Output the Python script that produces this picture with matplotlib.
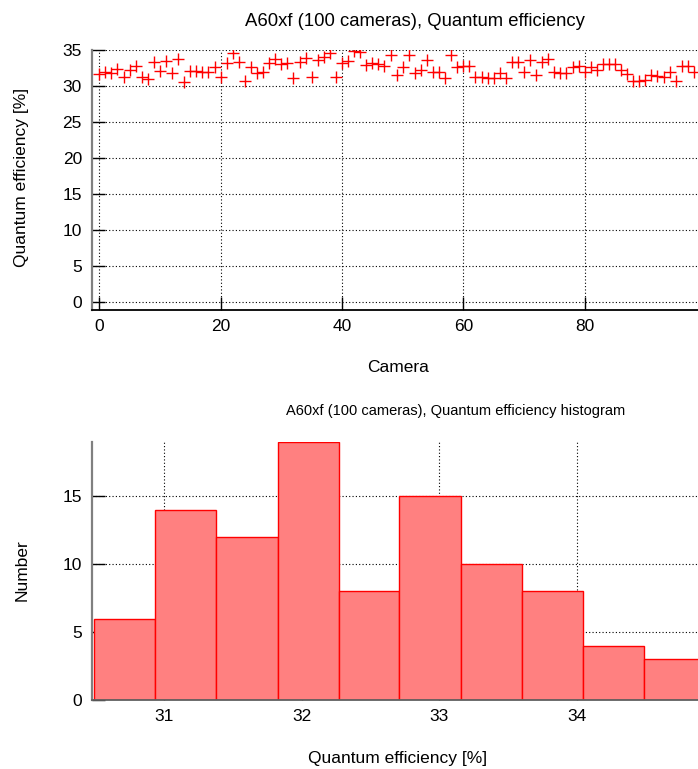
import matplotlib
matplotlib.use("Agg")
import matplotlib.pyplot as plt
import numpy as np

plt.rcParams['font.family'] = ['Liberation Sans', 'DejaVu Sans']

# Quantum efficiency per camera
cameras = np.arange(99)
qe = [31.67, 31.94, 31.80, 32.36, 31.34, 32.26, 32.87, 31.25, 31.00, 33.37,
      32.12, 33.56, 31.80, 33.80, 30.55, 32.12, 32.12, 32.03, 31.94, 32.73,
      31.25, 33.19, 34.58, 33.42, 30.78, 32.64, 31.80, 32.03, 33.28, 33.75,
      33.10, 33.28, 31.10, 33.42, 33.88, 31.25, 33.65, 34.12, 34.58, 31.25,
      33.19, 33.56, 34.90, 34.80, 32.96, 33.19, 33.10, 32.82, 34.35, 31.57,
      32.73, 34.35, 31.80, 32.26, 33.65, 31.94, 32.03, 31.10, 34.35, 32.73,
      32.82, 32.82, 31.25, 31.25, 31.10, 31.10, 31.80, 31.10, 33.42, 33.42,
      32.03, 33.65, 31.57, 33.42, 33.80, 32.03, 31.80, 31.80, 32.73, 32.82,
      32.03, 32.73, 32.26, 33.10, 33.10, 33.10, 32.20, 31.70, 30.78, 30.78,
      30.88, 31.57, 31.43, 31.25, 32.03, 30.78, 32.82, 32.82, 32.03]

# histogram (lower panel)
hist_edges = [30.49, 30.935, 31.38, 31.824, 32.27, 32.71,
              33.16, 33.60, 34.05, 34.49, 34.94]
hist_counts = [6, 14, 12, 19, 8, 15, 10, 8, 4, 3]

W, H = 698, 769
fig = plt.figure(figsize=(W / 100, H / 100), dpi=100)

grid_kw = dict(color='black', linestyle=(0, (1, 2)), linewidth=0.8)
fs = 12.5


def style_axes(ax, bottom_color):
    ax.spines['top'].set_visible(False)
    ax.spines['right'].set_visible(False)
    ax.spines['left'].set_color('#808080')
    ax.spines['left'].set_linewidth(1.6)
    ax.spines['bottom'].set_color(bottom_color)
    ax.spines['bottom'].set_linewidth(1.3)
    ax.tick_params(direction='in', length=9.5, width=1, color='black',
                   labelsize=fs, top=False, right=False)
    ax.tick_params(axis='y', pad=7)
    ax.tick_params(axis='x', pad=6)
    ax.grid(True, **grid_kw)
    ax.set_axisbelow(True)


# upper panel: per-camera scatter
ax1 = fig.add_axes([91.7 / W, 1 - 310.3 / H, (706 - 91.7) / W, 260 / H])
ax1.plot(cameras, qe, '+', color='red', ms=9, mew=1.0)
ax1.set_xlim(-1.25, 100)
ax1.set_ylim(-1.1, 35)
ax1.set_xticks([0, 20, 40, 60, 80])
ax1.set_yticks(range(0, 36, 5))
style_axes(ax1, 'black')

fig.text(414.5 / W, 1 - 21 / H, 'A60xf (100 cameras), Quantum efficiency',
         ha='center', va='center', fontsize=13.3)
fig.text(22 / W, 1 - 177 / H, 'Quantum efficiency [%]', rotation=90,
         ha='center', va='center', fontsize=fs)
fig.text(398 / W, 1 - 368 / H, 'Camera', ha='center', va='center', fontsize=fs)

# lower panel: histogram
ax2 = fig.add_axes([92 / W, 1 - 700.3 / H, (705 - 92) / W, 258.6 / H])
widths = np.diff(hist_edges)
ax2.bar(hist_edges[:-1], hist_counts, width=widths, align='edge',
        facecolor='#ff8080', edgecolor='red', linewidth=1.0)
ax2.set_xlim(30.474, 34.935)
ax2.set_ylim(0, 19)
ax2.set_xticks([31, 32, 33, 34])
ax2.set_yticks([0, 5, 10, 15])
style_axes(ax2, '#606060')

fig.text(456 / W, 1 - 411 / H, 'A60xf (100 cameras), Quantum efficiency histogram',
         ha='center', va='center', fontsize=10.5)
fig.text(22 / W, 1 - 570 / H, 'Number', rotation=90,
         ha='center', va='center', fontsize=fs)
fig.text(398 / W, 1 - 758 / H, 'Quantum efficiency [%]',
         ha='center', va='center', fontsize=fs)

fig.savefig('out.png', dpi=100)
